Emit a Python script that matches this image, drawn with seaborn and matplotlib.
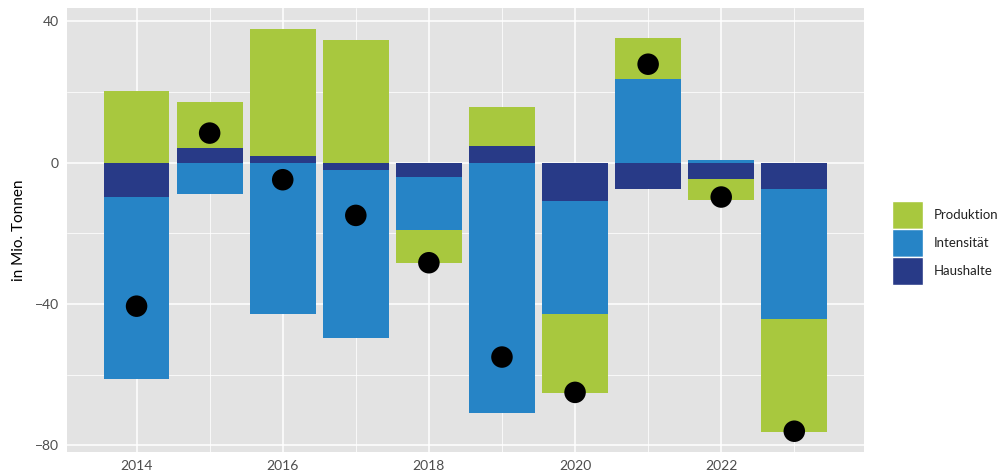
import numpy as np
import pandas as pd
import matplotlib
matplotlib.use("Agg")
import matplotlib.pyplot as plt
from matplotlib.patches import Patch
import seaborn as sns

jahre = [2014, 2015, 2016, 2017, 2018, 2019, 2020, 2021, 2022, 2023]
haushalte = [-9.7, 4.2, 1.9, -2.1, -4.1, 4.7, -10.8, -7.5, -4.6, -7.5]
intensitaet = [-51.5, -8.9, -42.7, -47.5, -15.0, -70.8, -32.0, 23.7, 0.75, -36.8]
produktion = [20.3, 13.0, 35.9, 34.7, -9.3, 11.1, -22.4, 11.6, -6.0, -32.0]
gesamt = [-40.6, 8.4, -4.8, -14.9, -28.3, -55.0, -65.0, 27.9, -9.7, -76.0]

farben = {"Produktion": "#A8C83E", "Intensität": "#2684C6", "Haushalte": "#283A87"}
reihen = {"Haushalte": haushalte, "Intensität": intensitaet, "Produktion": produktion}

sns.set_theme(style="darkgrid")
plt.rcParams["font.family"] = ["Lato", "DejaVu Sans"]

fig, ax = plt.subplots(figsize=(10.02, 4.73), dpi=100)
fig.subplots_adjust(left=0.067, right=0.862, top=0.983, bottom=0.045)
ax.set_facecolor("#E3E3E3")

x = np.array(jahre)
pos = np.zeros(len(x))
neg = np.zeros(len(x))
# stapeln: Haushalte am naechsten zur Null
for name, werte in reihen.items():
    v = np.array(werte)
    unten = np.where(v >= 0, pos, neg)
    ax.bar(x, v, bottom=unten, width=0.9, color=farben[name], linewidth=0, zorder=2)
    pos = pos + np.clip(v, 0, None)
    neg = neg + np.clip(v, None, 0)

df = pd.DataFrame({"jahr": jahre, "gesamt": gesamt})
sns.scatterplot(data=df, x="jahr", y="gesamt", color="black", s=240, edgecolor="none",
                ax=ax, zorder=3, legend=False)

ax.set_xlim(2013.05, 2023.95)
ax.set_ylim(-81.8, 43.8)
ax.set_xticks([2014, 2016, 2018, 2020, 2022])
ax.set_xticks(np.arange(2015, 2024, 2), minor=True)
ax.set_yticks([-80, -40, 0, 40])
ax.set_yticklabels(["\u221280", "\u221240", "0", "40"])
ax.set_yticks([-60, -20, 20], minor=True)
ax.grid(which="major", color="white", linewidth=1.1)
ax.grid(which="minor", color="white", linewidth=0.55)
ax.tick_params(which="major", length=3, width=0.8, color="#333333", labelsize=10,
               labelcolor="#4D4D4D", pad=3)
ax.tick_params(which="minor", length=0)
ax.set_xlabel("")
ax.set_ylabel("in Mio. Tonnen", fontsize=11, color="black", labelpad=6)
for s in ax.spines.values():
    s.set_visible(False)

handles = [Patch(facecolor=farben[n], edgecolor="white", linewidth=1) for n in ["Produktion", "Intensität", "Haushalte"]]
fig.legend(handles, ["Produktion", "Intensität", "Haushalte"], loc="center left",
           bbox_to_anchor=(0.890, 0.486), frameon=False, fontsize=9.5,
           handlelength=2.4, handleheight=2.9, labelspacing=0.0, handletextpad=0.8,
           borderaxespad=0, borderpad=0, labelcolor="#222222")

fig.savefig("out.png", dpi=100)
